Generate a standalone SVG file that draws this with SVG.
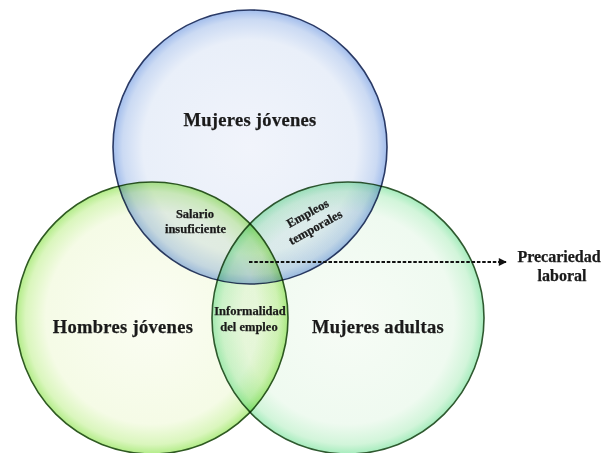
<svg xmlns="http://www.w3.org/2000/svg" width="604" height="453" viewBox="0 0 604 453">
<defs>
<radialGradient id="gBlue" cx="0.5" cy="0.5" r="0.5">
<stop offset="0" stop-color="#f1f4fb"/>
<stop offset="0.78" stop-color="#e9eff9"/>
<stop offset="0.93" stop-color="#cbdaf3"/>
<stop offset="1" stop-color="#a2bdec"/>
</radialGradient>
<radialGradient id="gLeft" cx="0.5" cy="0.5" r="0.5">
<stop offset="0" stop-color="#fbfdf3"/>
<stop offset="0.78" stop-color="#f5fbe6"/>
<stop offset="0.93" stop-color="#daf6bd"/>
<stop offset="1" stop-color="#b2ec88"/>
</radialGradient>
<radialGradient id="gRight" cx="0.5" cy="0.5" r="0.5">
<stop offset="0" stop-color="#f7fcf6"/>
<stop offset="0.78" stop-color="#effaf0"/>
<stop offset="0.93" stop-color="#d2f5da"/>
<stop offset="1" stop-color="#a6ecbd"/>
</radialGradient>
<marker id="arrow" viewBox="0 0 10 10" refX="9" refY="5" markerWidth="4.5" markerHeight="4" orient="auto" markerUnits="strokeWidth">
<path d="M0,0 L10,5 L0,10 z" fill="#111"/>
</marker>
</defs>
<style>
.set { mix-blend-mode: multiply; stroke-width: 1.6; }
.lbl { font-family: "Liberation Serif", "Times New Roman", serif; font-weight: bold; fill: #1a1a1a; stroke: #1a1a1a; stroke-width: 0.25; text-anchor: middle; }
.big { font-size: 18.5px; letter-spacing: 0.3px; }
.small { font-size: 12.5px; }
.side { font-size: 16px; }
</style>
<rect width="604" height="453" fill="#ffffff"/>
<g id="mujeres-jovenes">
<circle class="set" cx="250" cy="147" r="137" fill="url(#gBlue)" stroke="#2a3a66"/>
<text class="lbl big" x="250" y="126">Mujeres jóvenes</text>
</g>
<g id="hombres-jovenes">
<circle class="set" cx="152" cy="318" r="136" fill="url(#gLeft)" stroke="#2f5a22"/>
<text class="lbl big" x="123" y="333">Hombres jóvenes</text>
</g>
<g id="mujeres-adultas">
<circle class="set" cx="348" cy="318" r="136" fill="url(#gRight)" stroke="#2f5a30"/>
<text class="lbl big" x="378" y="333">Mujeres adultas</text>
</g>
<g id="salario-insuficiente">
<text class="lbl small" x="195" y="218">Salario</text>
<text class="lbl small" x="195.5" y="233">insuficiente</text>
</g>
<g id="empleos-temporales" transform="translate(313,223) rotate(-29)">
<text class="lbl small" x="0" y="-7">Empleos</text>
<text class="lbl small" x="0" y="9">temporales</text>
</g>
<g id="informalidad-empleo">
<text class="lbl small" x="250" y="315" font-size="13">Informalidad</text>
<text class="lbl small" x="249" y="331" font-size="13">del empleo</text>
</g>
<g id="precariedad-laboral">
<text class="lbl side" x="559" y="262">Precariedad</text>
<text class="lbl side" x="562" y="281">laboral</text>
</g>
<g id="connectors">
<line x1="249" y1="262" x2="506" y2="262" stroke="#111" stroke-width="2" stroke-dasharray="3.5 1.8" marker-end="url(#arrow)"/>
</g>
</svg>
